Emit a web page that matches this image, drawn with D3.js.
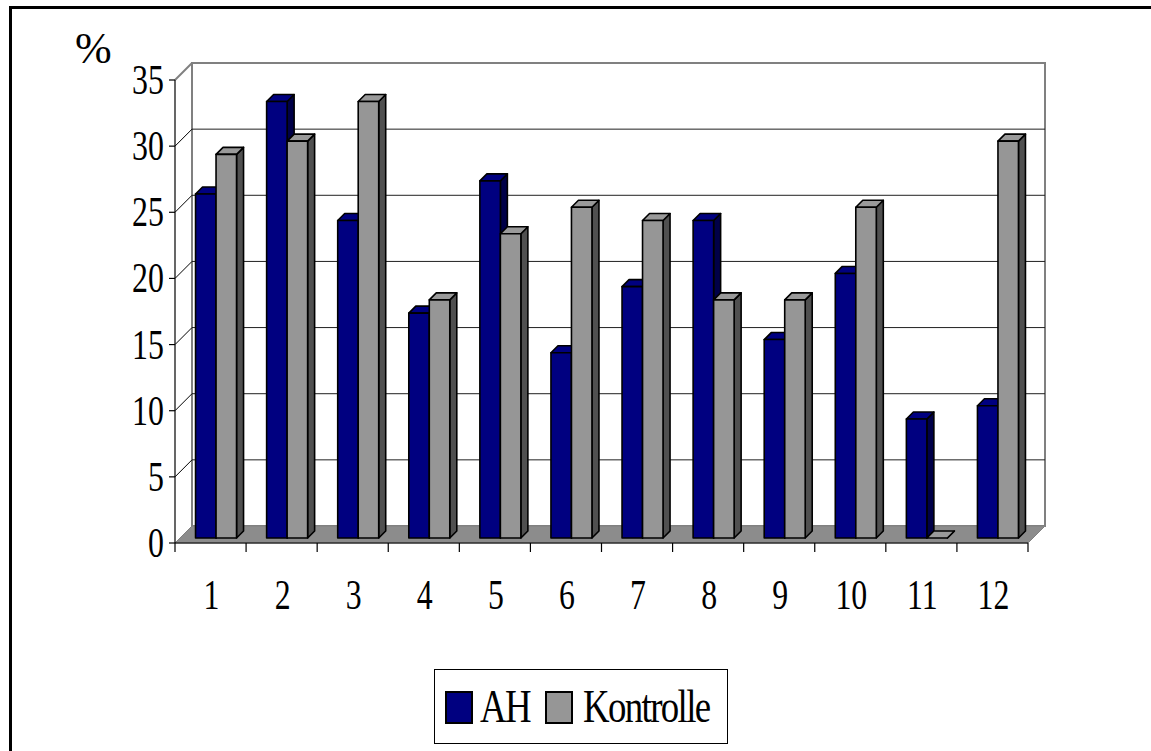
<!DOCTYPE html>
<html>
<head>
<meta charset="utf-8">
<script src="https://cdn.jsdelivr.net/npm/d3@7"></script>
<style>
  html, body { margin: 0; padding: 0; background: #fff; }
  svg { display: block; }
  text { font-family: "Liberation Serif", "Times New Roman", serif; fill: #000; }
</style>
</head>
<body>
<svg id="chart" width="1151" height="751"></svg>
<script>
// Anteil (%) je Kategorie, AH-Gruppe vs. Kontrollgruppe
const categories = ["1", "2", "3", "4", "5", "6", "7", "8", "9", "10", "11", "12"];
const seriesNames = ["AH", "Kontrolle"];
const ahValues = [26, 33, 24, 17, 27, 14, 19, 24, 15, 20, 9, 10];
const kontrolleValues = [29, 30, 33, 18, 23, 25, 24, 18, 18, 25, 0, 30];
const yTicks = [0, 5, 10, 15, 20, 25, 30, 35];

const colors = {
  AH: { front: "#000080", top: "#000080", side: "#000048" },
  Kontrolle: { front: "#969696", top: "#9a9a9a", side: "#505050" }
};

const svg = d3.select("#chart");

// plot frame (front plane) and 3D depth
const left = 175, right = 1028, baseY = 543, topY = 80;
const depth = 17;          // wall / floor depth
const barDepth = 7;        // depth of each bar
const barShift = (depth - barDepth) / 2;

const y = d3.scaleLinear().domain([0, 35]).range([baseY, topY]);
const x0 = d3.scaleBand().domain(categories).range([left, right]).padding(0);
const groupW = 41;
const x1 = d3.scaleBand().domain(seriesNames).range([0, groupW]).padding(0);

// outer border
svg.append("rect")
  .attr("x", 10.5).attr("y", 7.5)
  .attr("width", 1300).attr("height", 900)
  .attr("fill", "none").attr("stroke", "#000").attr("stroke-width", 3);

// back wall
svg.append("rect")
  .attr("x", left + depth).attr("y", y(35) - depth)
  .attr("width", right - left).attr("height", y(0) - y(35))
  .attr("fill", "#fff").attr("stroke", "#808080").attr("stroke-width", 2);

// gridlines on back wall
svg.append("g").selectAll("line")
  .data(yTicks.filter(t => t > 0 && t < 35))
  .join("line")
  .attr("x1", left + depth).attr("x2", right + depth)
  .attr("y1", d => y(d) - depth).attr("y2", d => y(d) - depth)
  .attr("stroke", "#202020").attr("stroke-width", 1);

// side wall connectors
svg.append("g").selectAll("line")
  .data(yTicks.filter(t => t > 0))
  .join("line")
  .attr("x1", left).attr("x2", left + depth)
  .attr("y1", d => y(d)).attr("y2", d => y(d) - depth)
  .attr("stroke", d => d === 35 ? "#808080" : "#000")
  .attr("stroke-width", d => d === 35 ? 2 : 1);

// floor
const floorPts = [
  [left, y(0)], [right, y(0)], [right + depth, y(0) - depth], [left + depth, y(0) - depth]
];
svg.append("polygon")
  .attr("points", floorPts.map(p => p.join(",")).join(" "))
  .attr("fill", "#8c8c8c").attr("stroke", "#808080").attr("stroke-width", 1);

// bars
const rows = categories.map((c, i) => ({
  cat: c,
  vals: [
    { s: "AH", v: ahValues[i] },
    { s: "Kontrolle", v: kontrolleValues[i] }
  ]
}));

const barG = svg.append("g");
rows.forEach(r => {
  r.vals.forEach(d => {
    const w = x1.bandwidth();
    const xf = x0(r.cat) + (x0.bandwidth() - groupW) / 2 + 0.5 + x1(d.s) + barShift;
    const yb = y(0) - barShift;
    const yt = y(d.v) - barShift;
    const c = colors[d.s];
    const g = barG.append("g")
      .attr("stroke", "#000").attr("stroke-width", 1.6).attr("stroke-linejoin", "round");
    // side face
    g.append("polygon")
      .attr("points", [[xf + w, yb], [xf + w + barDepth, yb - barDepth], [xf + w + barDepth, yt - barDepth], [xf + w, yt]].map(p => p.join(",")).join(" "))
      .attr("fill", c.side);
    // top face
    g.append("polygon")
      .attr("points", [[xf, yt], [xf + w, yt], [xf + w + barDepth, yt - barDepth], [xf + barDepth, yt - barDepth]].map(p => p.join(",")).join(" "))
      .attr("fill", c.top);
    // front face
    g.append("rect")
      .attr("x", xf).attr("y", yt)
      .attr("width", w).attr("height", yb - yt)
      .attr("fill", c.front);
  });
});

// y axis
const yAxisG = svg.append("g");
yAxisG.append("line")
  .attr("x1", left).attr("x2", left).attr("y1", y(35)).attr("y2", y(0))
  .attr("stroke", "#000").attr("stroke-width", 1.2);
yAxisG.selectAll("line.tick")
  .data(yTicks).join("line").attr("class", "tick")
  .attr("x1", left - 6).attr("x2", left)
  .attr("y1", d => y(d)).attr("y2", d => y(d))
  .attr("stroke", "#000").attr("stroke-width", 1.2);
yAxisG.selectAll("text")
  .data(yTicks).join("text")
  .attr("transform", d => `translate(${left - 11},${y(d) + 14}) scale(0.76,1)`)
  .attr("text-anchor", "end")
  .attr("font-size", 42)
  .text(d => d);

// x axis
const xAxisG = svg.append("g");
xAxisG.append("line")
  .attr("x1", left).attr("x2", right).attr("y1", y(0)).attr("y2", y(0))
  .attr("stroke", "#000").attr("stroke-width", 1.2);
const tickXs = categories.map(c => x0(c)).concat([right]);
xAxisG.selectAll("line.tick")
  .data(tickXs).join("line").attr("class", "tick")
  .attr("x1", d => d).attr("x2", d => d)
  .attr("y1", y(0)).attr("y2", y(0) + 9)
  .attr("stroke", "#000").attr("stroke-width", 1.2);
xAxisG.selectAll("text")
  .data(categories).join("text")
  .attr("transform", c => `translate(${x0(c) + x0.bandwidth() / 2 + 1},609) scale(0.74,1)`)
  .attr("text-anchor", "middle")
  .attr("font-size", 43)
  .text(c => c);

// unit label
svg.append("text")
  .attr("x", 75).attr("y", 63)
  .attr("font-size", 44)
  .text("%");

// legend
const legend = svg.append("g");
legend.append("rect")
  .attr("x", 434.5).attr("y", 669.5).attr("width", 293).attr("height", 74)
  .attr("fill", "#fff").attr("stroke", "#000").attr("stroke-width", 1);
const legendItems = [
  { s: "AH", sx: 446, tx: 480 },
  { s: "Kontrolle", sx: 546, tx: 583 }
];
legendItems.forEach(it => {
  legend.append("rect")
    .attr("x", it.sx).attr("y", 692).attr("width", 26).attr("height", 31)
    .attr("fill", colors[it.s].front).attr("stroke", "#000").attr("stroke-width", 2);
  legend.append("text")
    .attr("transform", `translate(${it.tx},722) scale(0.8,1)`)
    .attr("font-size", 46)
    .attr("letter-spacing", -2)
    .text(it.s);
});
</script>
</body>
</html>
